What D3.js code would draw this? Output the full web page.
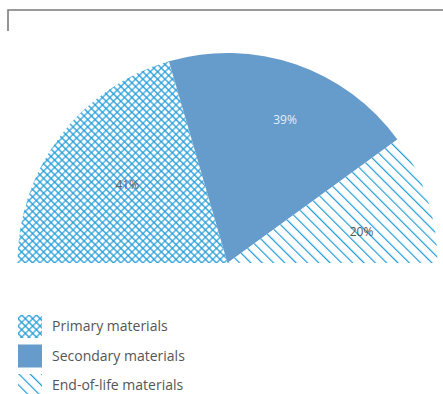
<!DOCTYPE html>
<html>
<head>
<meta charset="utf-8">
<script src="https://cdn.jsdelivr.net/npm/d3@7"></script>
<style>
  body { margin: 0; background: #fff; }
  svg text { font-family: "Open Sans", "Noto Sans", sans-serif; }
</style>
</head>
<body>
<div id="chart"></div>
<script>
// data
const categories = ["Primary materials", "Secondary materials", "End-of-life materials"];
const shares = [41, 39, 20];
const labels = ["41%", "39%", "20%"];

const width = 443, height = 394;
const cx = 227.5, cy = 263, radius = 210;

const svg = d3.select("#chart").append("svg")
  .attr("width", width)
  .attr("height", height);

// hatch patterns
const defs = svg.append("defs");
const hatchBlue = "#1f9bd7";

let cs = 5.2;
let cross = defs.append("pattern")
  .attr("id", "cross")
  .attr("patternUnits", "userSpaceOnUse")
  .attr("width", cs).attr("height", cs)
  .attr("patternTransform", "rotate(45)");
cross.append("rect").attr("width", cs).attr("height", cs).attr("fill", "#fff");
cross.append("path")
  .attr("d", `M0,${cs / 2} H${cs} M${cs / 2},0 V${cs}`)
  .attr("stroke", hatchBlue).attr("stroke-width", 1.15).attr("fill", "none");

let diag = defs.append("pattern")
  .attr("id", "diag")
  .attr("patternUnits", "userSpaceOnUse")
  .attr("width", 8).attr("height", 8)
  .attr("patternTransform", "rotate(-45)");
diag.append("rect").attr("width", 8).attr("height", 8).attr("fill", "#fff");
diag.append("line")
  .attr("x1", 0).attr("y1", 0).attr("x2", 0).attr("y2", 8)
  .attr("stroke", hatchBlue).attr("stroke-width", 2.4);

const fills = ["url(#cross)", "#659ccb", "url(#diag)"];
const labelColors = ["#666", "#e6eef6", "#555"];

// frame corner at top
svg.append("path")
  .attr("d", "M8,31 V10 H443")
  .attr("fill", "none")
  .attr("stroke", "#7a7a7a")
  .attr("stroke-width", 1.6);

// half pie
const pie = d3.pie()
  .sort(null)
  .startAngle(-Math.PI / 2)
  .endAngle(Math.PI / 2);

const arc = d3.arc().innerRadius(0).outerRadius(radius);

const arcs = pie(shares);

const g = svg.append("g").attr("transform", `translate(${cx},${cy})`);

g.selectAll("path.slice")
  .data(arcs)
  .join("path")
  .attr("class", "slice")
  .attr("d", arc)
  .attr("fill", (d, i) => fills[i]);

// labels, hand nudged like the original
const labelR = [0.605, 0.735, 0.655];
const labelShift = [1, 3, 5]; // degrees
g.selectAll("text.lbl")
  .data(arcs)
  .join("text")
  .attr("class", "lbl")
  .attr("x", (d, i) => {
    let a = (d.startAngle + d.endAngle) / 2 + labelShift[i] * Math.PI / 180;
    return Math.sin(a) * radius * labelR[i];
  })
  .attr("y", (d, i) => {
    let a = (d.startAngle + d.endAngle) / 2 + labelShift[i] * Math.PI / 180;
    return -Math.cos(a) * radius * labelR[i];
  })
  .attr("dy", "0.35em")
  .attr("text-anchor", "middle")
  .attr("font-size", 12)
  .attr("fill", (d, i) => labelColors[i])
  .text((d, i) => labels[i]);

// legend
const legend = svg.append("g").attr("transform", "translate(18,315)");
const rows = legend.selectAll("g")
  .data(categories)
  .join("g")
  .attr("transform", (d, i) => `translate(0,${i * 29.5})`);

rows.append("rect")
  .attr("width", 24).attr("height", 23)
  .attr("fill", (d, i) => fills[i]);

rows.append("text")
  .attr("x", 34).attr("y", 11.5)
  .attr("dy", "0.35em")
  .attr("font-size", 14)
  .attr("fill", "#555")
  .text(d => d);
</script>
</body>
</html>
